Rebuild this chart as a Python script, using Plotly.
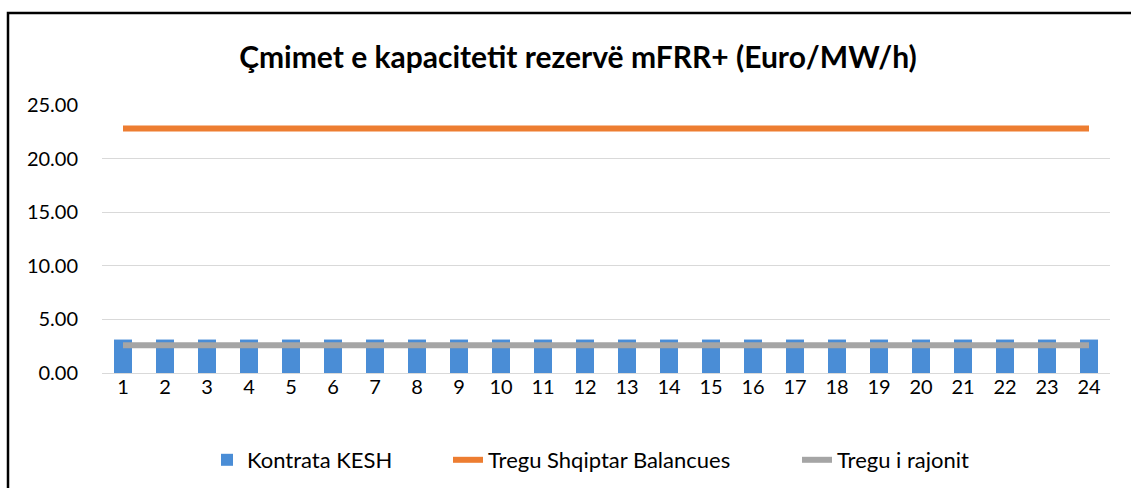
import plotly.graph_objects as go

hours = list(range(1, 25))
kontrata_kesh = [3.12] * 24
tregu_shqiptar = [22.80] * 24
tregu_rajonit = [2.60] * 24
y_ticks = [0, 5, 10, 15, 20, 25]
y_tick_labels = ["0.00", "5.00", "10.00", "15.00", "20.00", "25.00"]

W, H = 1131, 488
ml, mr, mt, mb = 102, 21, 105, 115
FONT = "Lato"

fig = go.Figure()
fig.add_trace(go.Bar(x=hours, y=kontrata_kesh, name="Kontrata KESH", legend="legend",
                     marker=dict(color="#4A8DD6", line=dict(width=0))))
fig.add_trace(go.Scatter(x=hours, y=tregu_shqiptar, name="Tregu Shqiptar Balancues",
                         legend="legend2",
                         mode="lines", line=dict(color="#ED7D31", width=6)))
fig.add_trace(go.Scatter(x=hours, y=tregu_rajonit, name="Tregu i rajonit",
                         legend="legend3",
                         mode="lines", line=dict(color="#A5A5A5", width=6)))

pw = W - ml - mr
ph = H - mt - mb
def px_x(x):
    return (x - ml) / pw
def px_y(y):
    return (H - mb - y) / ph

def leg(xpix):
    return dict(orientation="h", x=xpix / W, xanchor="left", xref="container",
                y=1 - 460 / H, yref="container", yanchor="middle",
                font=dict(family=FONT, size=22), itemwidth=30,
                bgcolor="rgba(0,0,0,0)")

fig.update_layout(
    width=W, height=H,
    margin=dict(l=ml, r=mr, t=mt, b=mb),
    paper_bgcolor="white", plot_bgcolor="white",
    font=dict(family=FONT, size=20, color="#000000"),
    title=dict(text="<b>Çmimet e kapacitetit rezervë mFRR+ (Euro/MW/h)</b>",
               x=578 / W, xref="container", xanchor="center", y=1 - 57 / H, yanchor="middle",
               font=dict(family=FONT, size=30, color="#000000")),
    bargap=0.57,
    showlegend=True,
    legend=leg(207),
    legend2=leg(448),
    legend3=leg(797),
    xaxis=dict(tickmode="array", tickvals=hours, ticktext=[str(h) for h in hours],
               range=[0.5, 24.5], showgrid=False, showline=False, ticks="",
               zeroline=False, tickfont=dict(family=FONT, size=20)),
    yaxis=dict(tickmode="array", tickvals=y_ticks, ticktext=y_tick_labels,
               range=[0, 25], showgrid=True, gridcolor="#D9D9D9", gridwidth=1,
               zeroline=True, zerolinecolor="#D9D9D9", zerolinewidth=1,
               showline=False, ticks="", tickfont=dict(family=FONT, size=20),
               ticklabelstandoff=23),
    shapes=[dict(type="rect", xref="paper", yref="paper",
                 x0=px_x(8), x1=px_x(1140), y0=px_y(500), y1=px_y(13),
                 line=dict(color="black", width=2.5), fillcolor="rgba(0,0,0,0)",
                 layer="above")],
)

fig.write_html("out.html", config={"displayModeBar": False},
               post_script="document.body.style.margin='0';document.body.style.overflow='hidden';")
